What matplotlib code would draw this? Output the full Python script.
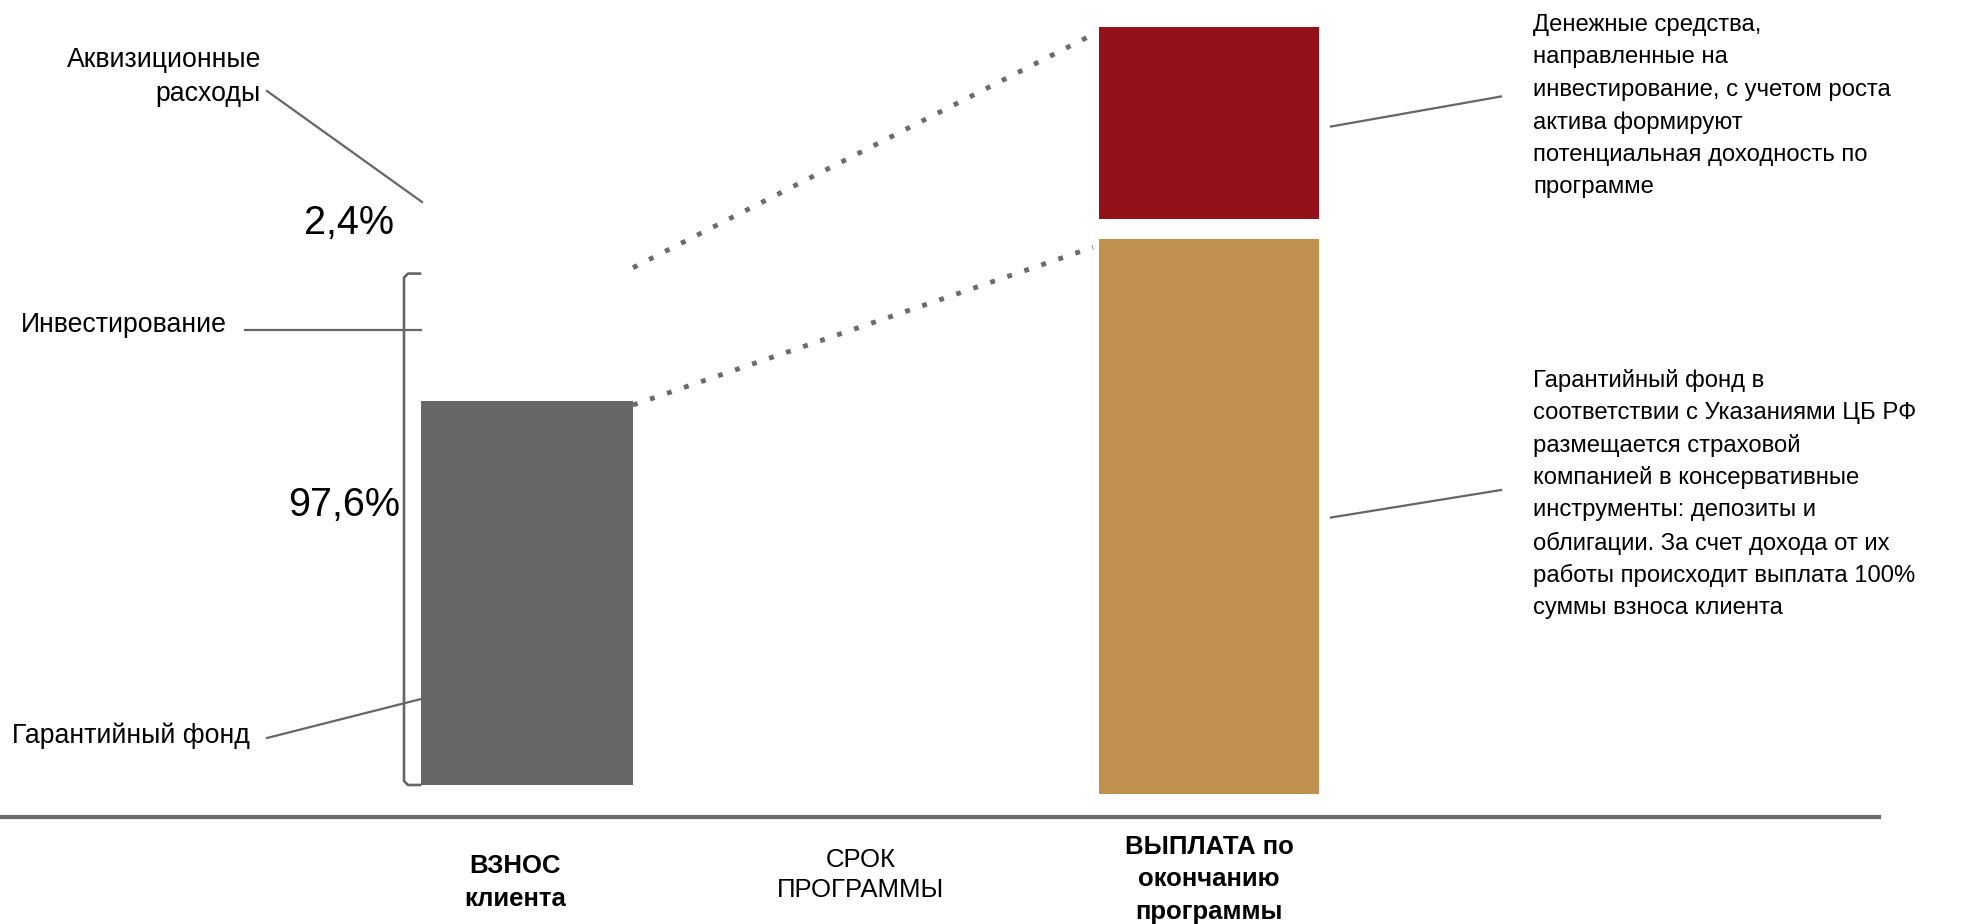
import matplotlib
matplotlib.use("Agg")
import matplotlib.pyplot as plt

plt.rcParams['font.family'] = ['Liberation Sans', 'DejaVu Sans']

# ---------------- data ----------------
categories = ["ВЗНОС\nклиента", "СРОК\nПРОГРАММЫ", "ВЫПЛАТА по\nокончанию\nпрограммы"]
category_bold = [True, False, True]
contribution_guarantee = 97.6      # Гарантийный фонд (gray bar)
contribution_total = 130.0         # bracket height (schematic units)
payout_guarantee = 141.0           # tan bar (schematic units)
payout_growth = 49.0               # red bar (schematic units)
share_labels = ["2,4%", "97,6%"]
left_labels = ["Аквизиционные\nрасходы", "Инвестирование", "Гарантийный фонд"]
right_texts = [
    "Денежные средства,\nнаправленные на\nинвестирование, с учетом роста\nактива формируют\nпотенциальная доходность по\nпрограмме",
    "Гарантийный фонд в\nсоответствии с Указаниями ЦБ РФ\nразмещается страховой\nкомпанией в консервативные\nинструменты: депозиты и\nоблигации. За счет дохода от их\nработы происходит выплата 100%\nсуммы взноса клиента",
]

# ---------------- layout / style ----------------
W, H = 1964, 924
GRAY = "#666666"
RED = "#931118"
TAN = "#C0904E"
LINE = "#6b6b6b"
PX_PER_UNIT = 3.934
BASE_PX = 785.0     # y (from top) of value 0

fig = plt.figure(figsize=(W / 100, H / 100), dpi=100)

# value axes for bars
ax = fig.add_axes([0, 0, 1, 1])
ax.set_xlim(0, W)
ax.set_ylim(-(H - BASE_PX) / PX_PER_UNIT, BASE_PX / PX_PER_UNIT)
ax.axis("off")

# overlay axes in pixel coordinates (y down) for annotations
ov = fig.add_axes([0, 0, 1, 1])
ov.set_xlim(0, W)
ov.set_ylim(H, 0)
ov.axis("off")
ov.patch.set_alpha(0)

gray_x, gray_w = 527, 212
pay_x, pay_w = 1209, 220
tan_bottom = -2.3
gap = 5.1

ax.bar([gray_x], [contribution_guarantee], width=gray_w, bottom=0, color=GRAY, zorder=2)
ax.bar([pay_x], [payout_guarantee], width=pay_w, bottom=tan_bottom, color=TAN, zorder=2)
red_bottom = tan_bottom + payout_guarantee + gap
ax.bar([pay_x], [payout_growth], width=pay_w, bottom=red_bottom, color=RED, zorder=2)

# dotted connectors
g_right = gray_x + gray_w / 2
p_left = pay_x - pay_w / 2
dot = dict(color=LINE, lw=3.5, linestyle=(0, (1, 2.7)), dash_capstyle="butt", zorder=1)
ax.plot([g_right, p_left - 6], [contribution_guarantee - 1, tan_bottom + payout_guarantee - 2], **dot)
ax.plot([g_right, p_left - 6], [contribution_total + 1.5, red_bottom + payout_growth - 2], **dot)

# bracket
bx = 404
top_px = BASE_PX - contribution_total * PX_PER_UNIT
ov.plot([bx + 16, bx + 4, bx, bx, bx + 4, bx + 16],
        [top_px, top_px, top_px + 4, BASE_PX - 4, BASE_PX, BASE_PX],
        color=GRAY, lw=1.9, solid_joinstyle="round")

# baseline
ov.plot([0, 1879], [817, 817], color=LINE, lw=3)

# leader lines
lead = dict(color=GRAY, lw=1.6)
ov.plot([267, 422], [91, 202], **lead)
ov.plot([245, 421], [329.5, 329.5], **lead)
ov.plot([267, 421], [738, 699], **lead)
ov.plot([1331, 1501], [126.5, 96.5], **lead)
ov.plot([1331, 1501], [517.5, 490], **lead)


def put_lines(text, x, y0, step, ha="left", **kw):
    for i, line in enumerate(text.split("\n")):
        ov.text(x, y0 + i * step, line, ha=ha, va="center", **kw)


FS_LBL = 19.2
put_lines(left_labels[0], 261, 60, 34, ha="right", fontsize=FS_LBL)
put_lines(left_labels[1], 21, 325, 34, ha="left", fontsize=FS_LBL)
put_lines(left_labels[2], 12, 736, 34, ha="left", fontsize=FS_LBL)

ov.text(349.5, 223, share_labels[0], ha="center", va="center", fontsize=28.5)
ov.text(344.5, 505, share_labels[1], ha="center", va="center", fontsize=28.5)

cat_x = [515, 860.5, 1209]
cat_y0 = [866, 860, 846.5]
cat_step = [33, 30, 32.6]
for lbl, x, y0, st, b in zip(categories, cat_x, cat_y0, cat_step, category_bold):
    put_lines(lbl, x, y0, st, ha="center", fontsize=18.5,
              fontweight="bold" if b else "normal")

put_lines(right_texts[0], 1533, 24.5, 32.6, fontsize=17.2)
put_lines(right_texts[1], 1533, 380, 32.6, fontsize=17.2)

fig.savefig("out.png", dpi=100)
